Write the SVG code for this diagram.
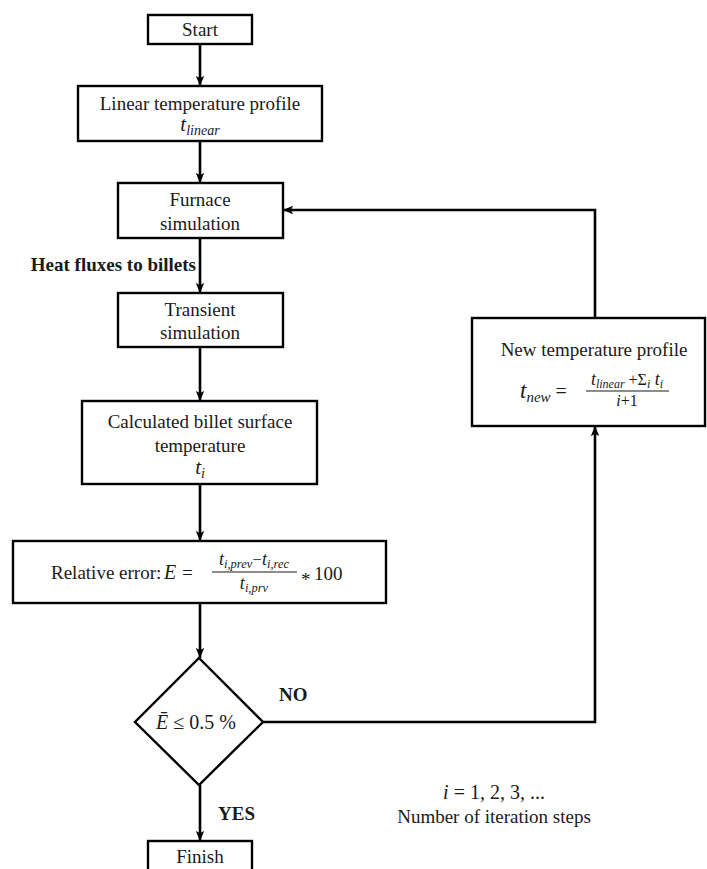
<svg xmlns="http://www.w3.org/2000/svg" width="707" height="869" viewBox="0 0 707 869">
<style>
  .box { fill: #ffffff; stroke: #000000; stroke-width: 2.4; }
  .t { font-family: "Liberation Serif", "Times New Roman", serif; font-size: 19px; fill: #1a1a1a; }
  .b { font-family: "Liberation Serif", "Times New Roman", serif; font-size: 19px; font-weight: bold; fill: #1a1a1a; }
  .m { font-family: "Liberation Serif", "Times New Roman", serif; font-style: italic; fill: #1a1a1a; }
  .up { font-style: normal; }
  .c { text-anchor: middle; }
  .conn { fill: none; stroke: #000000; stroke-width: 2.6; }
  .bar { stroke: #1a1a1a; stroke-width: 1.1; }
</style>
<defs>
  <marker id="ah" markerUnits="userSpaceOnUse" markerWidth="10" markerHeight="10" viewBox="0 0 10 10" refX="10" refY="5" orient="auto">
    <path d="M0,0.8 L10,5 L0,9.2 L2,5 Z" fill="#000000"/>
  </marker>
</defs>
<rect width="707" height="869" fill="#ffffff"/>

<g id="connectors">
  <line class="conn" x1="200" y1="44" x2="200" y2="86" marker-end="url(#ah)"/>
  <line class="conn" x1="200" y1="141" x2="200" y2="183" marker-end="url(#ah)"/>
  <line class="conn" x1="200" y1="238" x2="200" y2="293" marker-end="url(#ah)"/>
  <line class="conn" x1="200" y1="347" x2="200" y2="401" marker-end="url(#ah)"/>
  <line class="conn" x1="200" y1="484" x2="200" y2="541" marker-end="url(#ah)"/>
  <line class="conn" x1="200" y1="603" x2="200" y2="658" marker-end="url(#ah)"/>
  <line class="conn" x1="200" y1="785" x2="200" y2="841" marker-end="url(#ah)"/>
  <polyline class="conn" points="263,722 595,722 595,426" marker-end="url(#ah)"/>
  <polyline class="conn" points="595,318 595,210 283,210" marker-end="url(#ah)"/>
  <text class="b" x="196" y="271" text-anchor="end" font-size="20">Heat fluxes to billets</text>
  <text class="b" x="279" y="701">NO</text>
  <text class="b" x="218" y="820">YES</text>
</g>

<g id="start">
  <rect class="box" x="148" y="15" width="104" height="29"/>
  <text class="t c" x="200" y="36">Start</text>
</g>

<g id="linear">
  <rect class="box" x="78" y="86" width="244" height="55"/>
  <text class="t c" x="200" y="110">Linear temperature profile</text>
  <text class="m c" x="200" y="131"><tspan font-size="21">t</tspan><tspan font-size="14" dy="4">linear</tspan></text>
</g>

<g id="furnace">
  <rect class="box" x="118" y="183" width="165" height="55"/>
  <text class="t c" x="200" y="206">Furnace</text>
  <text class="t c" x="200" y="230">simulation</text>
</g>

<g id="transient">
  <rect class="box" x="118" y="293" width="165" height="54"/>
  <text class="t c" x="200" y="316">Transient</text>
  <text class="t c" x="200" y="339">simulation</text>
</g>

<g id="calculated">
  <rect class="box" x="82" y="401" width="235" height="83"/>
  <text class="t c" x="200" y="428">Calculated billet surface</text>
  <text class="t c" x="200" y="452">temperature</text>
  <text class="m c" x="200" y="474"><tspan font-size="21">t</tspan><tspan font-size="14" dy="4">i</tspan></text>
</g>

<g id="relative-error">
  <rect class="box" x="13" y="541" width="373" height="62"/>
  <text class="t" x="51" y="579" font-size="18">Relative error:</text>
  <text class="m" x="164" y="579" font-size="20">E</text>
  <text class="t" x="182" y="579" font-size="20">=</text>
  <text class="m c" x="254" y="565"><tspan font-size="18">t</tspan><tspan font-size="12.5" dy="3">i,prev</tspan><tspan class="up" font-size="17" dy="-3">−</tspan><tspan font-size="18">t</tspan><tspan font-size="12.5" dy="3">i,rec</tspan></text>
  <line class="bar" x1="212" y1="572" x2="297" y2="572"/>
  <text class="m c" x="254" y="589"><tspan font-size="18">t</tspan><tspan font-size="12.5" dy="3">i,prv</tspan></text>
  <text class="t" x="301" y="586" font-size="20">*</text>
  <text class="t" x="314" y="580" font-size="20">100</text>
</g>

<g id="decision">
  <polygon class="box" points="199,658 263,722 199,785 135,722"/>
  <text class="m c" x="196" y="729" font-size="20">Ē<tspan class="up"> ≤ 0.5 %</tspan></text>
</g>

<g id="new-profile">
  <rect class="box" x="472" y="318" width="233" height="108"/>
  <text class="t c" x="594" y="356">New temperature profile</text>
  <text class="m" x="520" y="398"><tspan font-size="23">t</tspan><tspan font-size="15" dy="4">new</tspan><tspan class="up" font-size="20" dy="-4"> =</tspan></text>
  <text class="m c" x="627" y="385"><tspan font-size="18">t</tspan><tspan font-size="12" dy="3">linear</tspan><tspan class="up" font-size="16" dy="-3"> +Σ</tspan><tspan font-size="12" dy="3">i</tspan><tspan font-size="18" dy="-3"> t</tspan><tspan font-size="12" dy="3">i</tspan></text>
  <line class="bar" x1="586" y1="391" x2="669" y2="391"/>
  <text class="m c" x="627" y="406" font-size="16">i<tspan class="up">+1</tspan></text>
</g>

<g id="finish">
  <rect class="box" x="148" y="841" width="104" height="34"/>
  <text class="t c" x="200" y="863">Finish</text>
</g>

<g id="note">
  <text class="m c" x="494" y="799" font-size="20">i<tspan class="up"> = 1, 2, 3, ...</tspan></text>
  <text class="t c" x="494" y="823">Number of iteration steps</text>
</g>
</svg>
